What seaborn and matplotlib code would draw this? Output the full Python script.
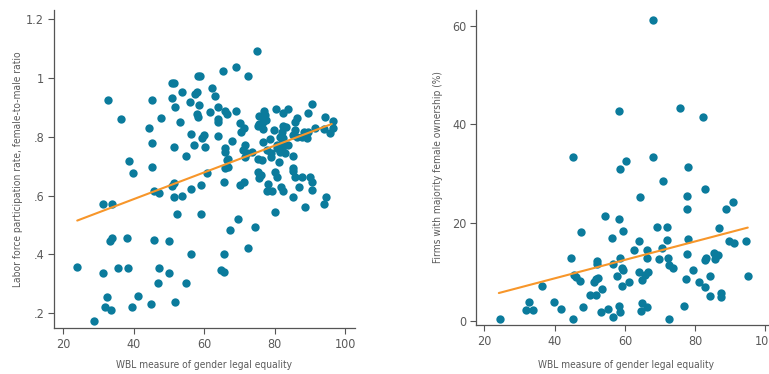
import matplotlib
matplotlib.use("Agg")
import matplotlib.pyplot as plt
from matplotlib import font_manager as fm
import seaborn as sns
import pandas as pd

# ---------------- data ----------------
lf_wbl = [32.6, 36.3, 45.1, 38.7, 39.7, 45.3, 44.3, 45.3, 47.8, 50.8, 51.5, 50.9, 51.6, 53.7, 55.9,
          57.4, 57.9, 58.6, 58.2, 58.9, 58.1, 58.3, 53.1, 51.5, 56.2, 57.2, 54.9, 59.4, 60.0, 60.2,
          23.9, 28.7, 31.3, 31.3, 33.8, 32.4, 31.9, 33.5, 33.4, 33.8, 35.5, 38.1, 38.4, 39.5, 41.2,
          44.8, 45.8, 45.8, 47.2, 47.3, 46.8, 49.9, 50.1, 51.6, 51.0, 51.5, 51.5, 52.4, 53.8, 54.8,
          56.2, 56.2, 59.0, 59.0,
          74.9, 65.4, 69.0, 72.4, 62.2, 63.2, 64.0, 61.7, 65.9, 66.4, 69.0, 63.9, 64.0, 63.9, 67.9,
          65.9, 65.8, 66.8, 66.8, 60.7, 70.2, 71.4, 70.4, 75.7, 77.0, 77.3, 77.5, 76.8, 75.7, 80.3,
          82.5, 83.9, 86.3, 85.8, 90.6, 89.6, 94.4, 96.6, 96.6, 95.8, 94.1, 91.6, 89.6, 88.2, 89.3,
          87.7, 85.8, 85.3, 86.3, 82.5, 83.3, 82.0, 81.4, 82.5, 79.7, 78.7, 76.8, 75.4, 76.6, 71.6,
          71.1, 72.1, 73.5, 71.6, 77.8, 78.9, 80.8, 82.0, 80.8, 81.6, 82.2, 83.9, 83.0, 75.4, 76.4,
          78.9, 81.3, 85.2, 85.3, 85.3, 87.7, 85.8, 90.1, 80.1, 80.6, 75.4, 76.1, 65.9, 66.4,
          65.7, 70.3, 71.4, 75.5, 78.0, 77.7, 79.4, 81.8, 82.5, 87.0, 90.6, 90.6, 85.3, 88.5, 94.5,
          94.1, 80.1, 69.5, 67.4, 74.5, 72.4, 65.7, 64.7, 65.7]
lf_ratio = [0.924, 0.859, 0.924, 0.716, 0.677, 0.697, 0.829, 0.779, 0.864, 0.981, 0.981, 0.931, 0.900, 0.951, 0.918,
            0.944, 0.951, 0.906, 1.006, 1.006, 0.877, 0.868, 0.849, 0.766, 0.810, 0.772, 0.735, 0.797, 0.805, 0.766,
            0.357, 0.173, 0.336, 0.571, 0.571, 0.257, 0.223, 0.212, 0.446, 0.457, 0.354, 0.457, 0.354, 0.223, 0.260,
            0.231, 0.449, 0.615, 0.607, 0.354, 0.302, 0.336, 0.446, 0.238, 0.632, 0.643, 0.594, 0.537, 0.597, 0.302,
            0.622, 0.401, 0.635, 0.537,
            1.091, 1.023, 1.038, 1.005, 0.964, 0.939, 0.900, 0.884, 0.888, 0.878, 0.887, 0.861, 0.850, 0.801, 0.786,
            0.760, 0.748, 0.725, 0.696, 0.677, 0.845, 0.828, 0.817, 0.870, 0.888, 0.873, 0.857, 0.851, 0.843, 0.893,
            0.881, 0.893, 0.864, 0.851, 0.910, 0.881, 0.868, 0.853, 0.830, 0.811, 0.825, 0.830, 0.817, 0.817, 0.794,
            0.800, 0.822, 0.805, 0.800, 0.836, 0.832, 0.817, 0.798, 0.794, 0.822, 0.791, 0.825, 0.836, 0.783, 0.771,
            0.754, 0.745, 0.747, 0.732, 0.754, 0.743, 0.771, 0.777, 0.760, 0.749, 0.757, 0.771, 0.743, 0.723, 0.720,
            0.732, 0.715, 0.734, 0.692, 0.684, 0.664, 0.664, 0.664, 0.681, 0.664, 0.681, 0.669, 0.692, 0.720,
            0.647, 0.635, 0.645, 0.658, 0.639, 0.614, 0.614, 0.628, 0.616, 0.628, 0.645, 0.618, 0.596, 0.562, 0.595,
            0.571, 0.544, 0.520, 0.483, 0.494, 0.423, 0.400, 0.346, 0.340]
lf_trend_x = [24.0, 96.2]
lf_trend_y = [0.515, 0.843]

fo_wbl = [68.1, 58.3, 75.8, 82.3, 45.3, 68.1, 60.4, 58.7, 77.9, 70.8, 82.9, 54.2, 58.2, 59.6, 47.4,
          56.3, 44.6, 52.1, 52.1, 58.7, 56.6, 59.1, 59.6, 57.7, 59.2, 45.5, 46.1, 47.1, 36.4, 51.3,
          51.8, 52.3, 53.4, 50.2, 51.8, 32.7, 31.7, 33.9, 24.3, 39.9, 41.8, 45.3, 48.1, 53.2, 55.2,
          56.7, 58.3, 58.7, 64.3, 77.7, 77.7, 90.9, 88.8, 69.2, 72.0, 86.9, 64.1, 72.0, 78.0, 89.7,
          91.2, 94.5, 62.6, 66.4, 66.3, 70.5, 69.8, 72.3, 77.7, 72.6, 73.7, 79.4, 82.9, 83.2, 85.4,
          86.4, 85.8, 63.9, 66.7, 65.6, 64.8, 61.2, 77.5, 81.2, 82.8, 84.2, 95.0, 84.2, 87.3, 87.3,
          76.9, 65.0, 66.3, 64.6, 72.6]
fo_share = [61.2, 42.6, 43.4, 41.4, 33.3, 33.3, 32.5, 30.9, 31.3, 28.5, 26.8, 21.3, 20.7, 18.4, 18.2,
            16.9, 12.9, 12.3, 11.7, 12.9, 11.7, 10.7, 10.4, 9.2, 7.2, 9.4, 9.0, 8.1, 7.2, 8.0,
            8.5, 8.8, 6.5, 5.3, 5.3, 3.9, 2.2, 2.2, 0.5, 3.8, 2.4, 0.5, 2.8, 1.8, 2.4,
            0.8, 3.1, 1.8, 25.2, 25.5, 22.8, 24.1, 22.8, 19.1, 19.1, 18.9, 16.3, 16.4, 16.7, 16.3,
            15.9, 16.2, 14.4, 14.4, 12.9, 14.8, 12.7, 12.9, 13.7, 11.4, 10.7, 10.4, 12.4, 12.9, 13.8,
            13.4, 12.6, 10.0, 9.9, 9.3, 8.3, 8.0, 8.5, 8.0, 7.0, 9.2, 9.2, 5.0, 5.8, 4.9,
            3.1, 3.6, 2.9, 2.0, 0.5]
fo_trend_x = [24.1, 95.0]
fo_trend_y = [5.7, 19.0]

x_ticks = [20, 40, 60, 80, 100]
lf_yticks = [0.2, 0.4, 0.6, 0.8, 1.0, 1.2]
lf_yticklabels = [".2", ".4", ".6", ".8", "1", "1.2"]
fo_yticks = [0, 20, 40, 60]
x_label = "WBL measure of gender legal equality"
lf_ylabel = "Labor force participation rate, female-to-male ratio"
fo_ylabel = "Firms with majority female ownership (%)"

# ---------------- style ----------------
sns.set_style("ticks")
names = {f.name for f in fm.fontManager.ttflist}
font_kw = {}
if "Liberation Sans Narrow" in names:
    font_kw = dict(family="Liberation Sans Narrow")
elif any(f.name == "DejaVu Sans" and "condensed" in str(f.stretch) for f in fm.fontManager.ttflist):
    font_kw = dict(family="DejaVu Sans", stretch="condensed")
else:
    cands = sorted(n for n in names if "Condensed" in n or "Narrow" in n)
    font_kw = dict(family=cands[0]) if cands else dict(family="Roboto")
plt.rcParams["font.family"] = font_kw["family"]
if "stretch" in font_kw:
    plt.rcParams["font.stretch"] = font_kw["stretch"]

DOT = "#0b7b9c"
LINE = "#f7962a"
SPINE = "#555555"
TXT = "#5a5a5a"

fig = plt.figure(figsize=(7.69, 3.74), dpi=100)
ax1 = fig.add_axes([0.0702, 0.123, 0.3914, 0.850])
ax2 = fig.add_axes([0.619, 0.131, 0.389, 0.842])

df1 = pd.DataFrame({"wbl": lf_wbl, "ratio": lf_ratio})
df2 = pd.DataFrame({"wbl": fo_wbl, "share": fo_share})
t1 = pd.DataFrame({"x": lf_trend_x, "y": lf_trend_y})
t2 = pd.DataFrame({"x": fo_trend_x, "y": fo_trend_y})

sns.scatterplot(data=df1, x="wbl", y="ratio", ax=ax1, color=DOT, s=36, linewidth=0, zorder=2)
sns.lineplot(data=t1, x="x", y="y", ax=ax1, color=LINE, linewidth=1.5, zorder=3)
sns.scatterplot(data=df2, x="wbl", y="share", ax=ax2, color=DOT, s=36, linewidth=0, zorder=2)
sns.lineplot(data=t2, x="x", y="y", ax=ax2, color=LINE, linewidth=1.5, zorder=3)

ax1.set_xlim(17.4, 102.8)
ax1.set_ylim(0.15, 1.23)
ax2.set_xlim(17.6, 102.8)
ax2.set_ylim(-0.8, 63.2)

ax1.set_yticks(lf_yticks)
ax1.set_yticklabels(lf_yticklabels)
ax2.set_yticks(fo_yticks)
for ax in (ax1, ax2):
    ax.set_xticks(x_ticks)
    for side in ("top", "right"):
        ax.spines[side].set_visible(False)
    for side in ("left", "bottom"):
        ax.spines[side].set_color(SPINE)
        ax.spines[side].set_linewidth(0.9)
    ax.tick_params(axis="both", length=4, width=0.8, color=SPINE, labelcolor=TXT,
                   labelsize=9, pad=3)
    ax.set_xlabel(x_label, fontsize=7.3, color=TXT)

ax1.set_ylabel(lf_ylabel, fontsize=7.3, color=TXT)
ax2.set_ylabel(fo_ylabel, fontsize=7.3, color=TXT)
ax1.yaxis.set_label_coords(-0.103, 0.5)
ax1.xaxis.set_label_coords(0.5, -0.10)
ax2.yaxis.set_label_coords(-0.11, 0.5)
ax2.xaxis.set_label_coords(0.5, -0.11)

fig.savefig("out.png", dpi=100)
